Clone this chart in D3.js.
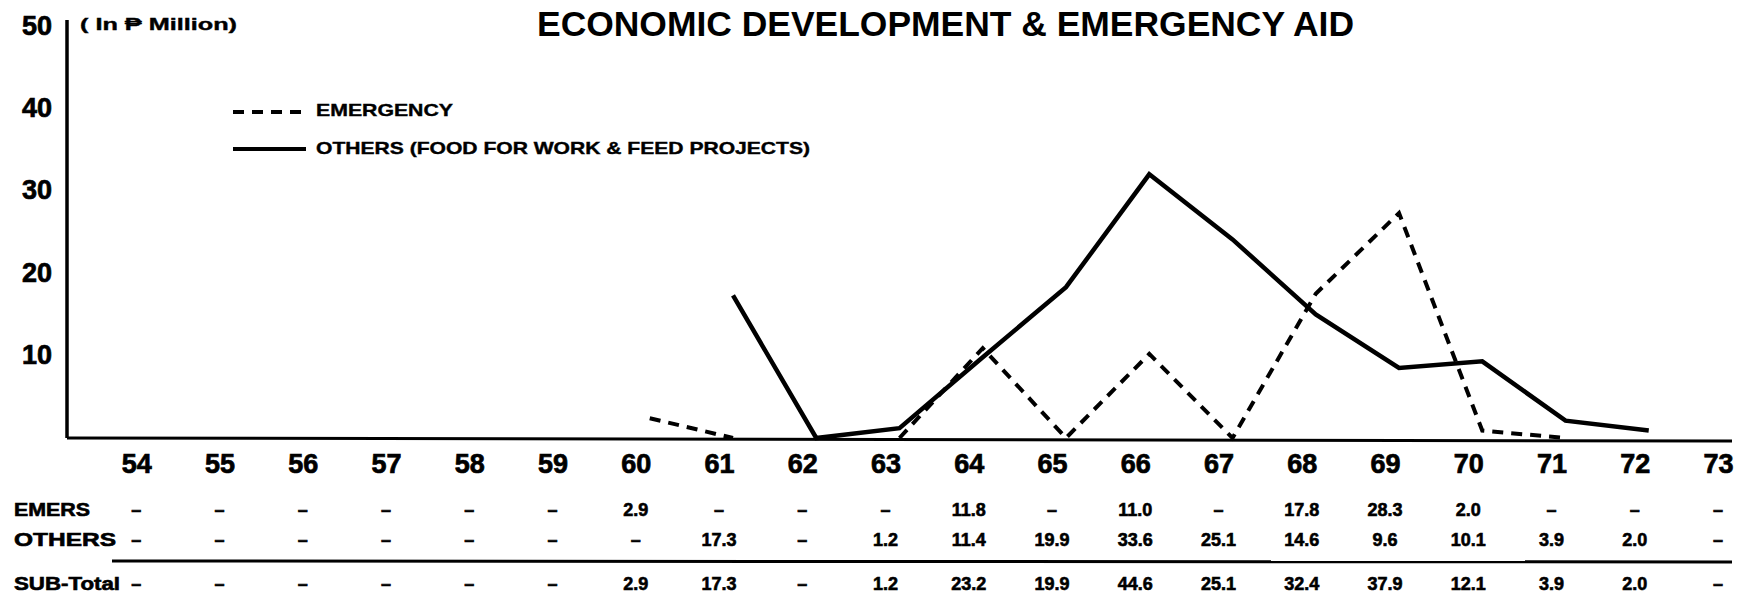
<!DOCTYPE html>
<html>
<head>
<meta charset="utf-8">
<script src="https://cdn.jsdelivr.net/npm/d3@7/dist/d3.min.js"></script>
<style>
  html, body { margin: 0; padding: 0; background: #fff; }
  svg { display: block; }
  text { font-family: "Liberation Sans", Arial, sans-serif; font-weight: bold; fill: #000; }
</style>
</head>
<body>
<svg id="chart" width="1762" height="600"></svg>
<script>
// ---------- data ----------
const yearLabels = ["54","55","56","57","58","59","60","61","62","63","64","65","66","67","68","69","70","71","72","73"];
const yTicks = [10, 20, 30, 40, 50];

// plotted line vertices (as drawn in the picture); null = no line drawn
const emergencyYears  = [60, 61, 62, 63, 64, 65, 66, 67, 68, 69, 70, 71];
const emergencyValues = [2.4, 0, null, 0, 10.9, 0, 10.2, 0, 17.5, 27.3, 0.9, 0];
const othersYears  = [61, 62, 63, 64, 65, 66, 67, 68, 69, 70, 71, 72];
const othersValues = [17.3, 0, 1.2, 9.8, 18.3, 32.0, 24.1, 15.0, 8.5, 9.3, 2.1, 0.9];

// table rows
const rowNames = ["EMERS", "OTHERS", "SUB-Total"];
const emergRow  = ["–","–","–","–","–","–","2.9","–","–","–","11.8","–","11.0","–","17.8","28.3","2.0","–","–","–"];
const othersRow = ["–","–","–","–","–","–","–","17.3","–","1.2","11.4","19.9","33.6","25.1","14.6","9.6","10.1","3.9","2.0","–"];
const totalRow  = ["–","–","–","–","–","–","2.9","17.3","–","1.2","23.2","19.9","44.6","25.1","32.4","37.9","12.1","3.9","2.0","–"];

const titleText = "ECONOMIC DEVELOPMENT & EMERGENCY AID";
const unitText = "( In ₱ Million)";
const legendNames = ["EMERGENCY", "OTHERS (FOOD FOR WORK & FEED PROJECTS)"];

// ---------- layout ----------
const svg = d3.select("#chart");
const x = d3.scaleLinear().domain([53, 73]).range([67, 1732]);
const y = d3.scaleLinear().domain([0, 50]).range([438, 26]);
const labelShift = -14;
const xLab = d3.scalePoint().domain(yearLabels).range([x(54) + labelShift, x(73) + labelShift]);

// title
svg.append("text")
  .attr("x", 537).attr("y", 36)
  .attr("font-size", 35)
  .attr("textLength", 817).attr("lengthAdjust", "spacingAndGlyphs")
  .text(titleText);

// unit
svg.append("text")
  .attr("x", 80).attr("y", 30)
  .attr("font-size", 17)
  .attr("textLength", 157).attr("lengthAdjust", "spacingAndGlyphs")
  .style("stroke", "#000").style("stroke-width", 0.4)
  .text(unitText);

// y axis (labels only, via d3 axis)
const yAxis = d3.axisLeft(y).tickValues(yTicks).tickSize(0).tickPadding(15).tickFormat(d3.format("d"));
const gy = svg.append("g").attr("transform", `translate(${x(53)},0)`).call(yAxis);
gy.select(".domain").remove();
gy.selectAll("text")
  .attr("font-size", 27).attr("dy", "0.3em")
  .style("font-family", "'Liberation Sans', Arial, sans-serif").style("font-weight", "bold")
  .style("stroke", "#000").style("stroke-width", 0.7);

// x axis labels (via d3 axis)
const xAxis = d3.axisBottom(xLab).tickSize(0).tickPadding(16);
const gx = svg.append("g").attr("transform", `translate(0,${y(0)})`).call(xAxis);
gx.select(".domain").remove();
gx.selectAll("text")
  .attr("font-size", 27)
  .style("font-family", "'Liberation Sans', Arial, sans-serif").style("font-weight", "bold")
  .style("stroke", "#000").style("stroke-width", 0.7);

// axis lines
svg.append("line")
  .attr("x1", x(53)).attr("x2", x(53)).attr("y1", y(50) - 6).attr("y2", y(0))
  .attr("stroke", "#000").attr("stroke-width", 3.5);
svg.append("line")
  .attr("x1", x(53)).attr("x2", x(73)).attr("y1", y(0)).attr("y2", y(0) + 3)
  .attr("stroke", "#000").attr("stroke-width", 3);

// lines
const lineGen = d3.line().defined(d => d[1] !== null).x(d => x(d[0])).y(d => y(d[1]));
svg.append("path")
  .datum(othersYears.map((yr, i) => [yr, othersValues[i]]))
  .attr("d", lineGen)
  .attr("fill", "none").attr("stroke", "#000").attr("stroke-width", 4.5)
  .attr("stroke-linejoin", "miter");
svg.append("path")
  .datum(emergencyYears.map((yr, i) => [yr, emergencyValues[i]]))
  .attr("d", lineGen)
  .attr("fill", "none").attr("stroke", "#000").attr("stroke-width", 4)
  .attr("stroke-dasharray", "11,8");

// legend
const legend = svg.append("g");
legend.append("line")
  .attr("x1", 233).attr("x2", 303).attr("y1", 112).attr("y2", 112)
  .attr("stroke", "#000").attr("stroke-width", 4).attr("stroke-dasharray", "11,8");
legend.append("line")
  .attr("x1", 233).attr("x2", 306).attr("y1", 149).attr("y2", 149)
  .attr("stroke", "#000").attr("stroke-width", 4);
legend.selectAll("text.leg").data(legendNames).enter().append("text")
  .attr("class", "leg")
  .attr("x", 316)
  .attr("y", (d, i) => i === 0 ? 116 : 154)
  .attr("font-size", 17)
  .attr("textLength", (d, i) => i === 0 ? 137 : 494)
  .attr("lengthAdjust", "spacingAndGlyphs")
  .style("stroke", "#000").style("stroke-width", 0.4)
  .text(d => d);

// table
const rows = [emergRow, othersRow, totalRow];
const rowY = [516, 546, 590];
const table = svg.append("g");
table.selectAll("text.rowname").data(rowNames).enter().append("text")
  .attr("class", "rowname")
  .attr("x", 14).attr("y", (d, i) => rowY[i])
  .attr("font-size", 18)
  .attr("textLength", (d, i) => [76, 102, 106][i]).attr("lengthAdjust", "spacingAndGlyphs")
  .style("stroke", "#000").style("stroke-width", 0.6)
  .text(d => d);
rows.forEach((row, r) => {
  table.selectAll(`text.r${r}`).data(row).enter().append("text")
    .attr("class", `r${r}`)
    .attr("x", (d, i) => xLab(yearLabels[i]))
    .attr("y", rowY[r])
    .attr("text-anchor", "middle")
    .attr("font-size", 18)
    .style("stroke", "#000").style("stroke-width", 0.6)
    .text(d => d);
});
table.append("line")
  .attr("x1", 112).attr("x2", x(73)).attr("y1", 561).attr("y2", 562)
  .attr("stroke", "#000").attr("stroke-width", 3);
</script>
</body>
</html>
